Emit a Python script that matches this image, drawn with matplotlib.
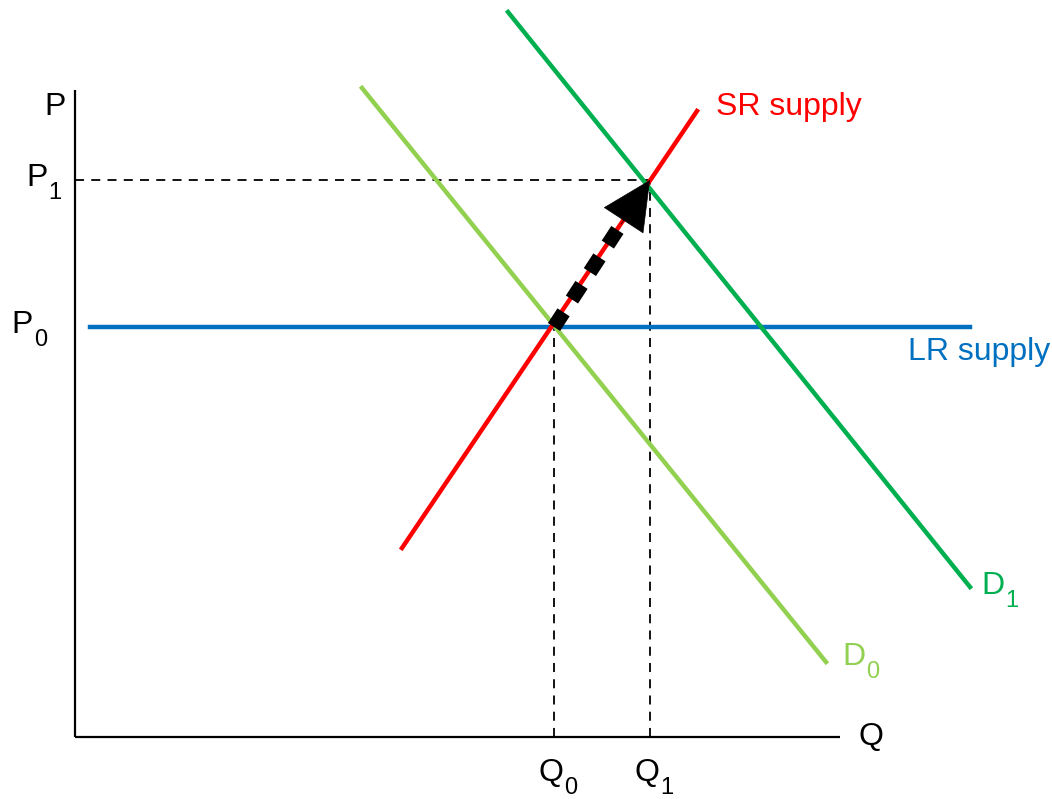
import numpy as np
import matplotlib.pyplot as plt

plt.rcParams['font.family'] = ['Liberation Sans', 'DejaVu Sans']

# curve end points (quantity, price)
sr_q = [327, 622]
sr_p = [189, 626]
d0_q = [287, 751]
d0_p = [649, 75]
d1_q = [433, 895]
d1_p = [725, 150]
lr_q = [15, 895]
lr_p = [410, 410]

q0, q1 = 479, 575
p0, p1 = 410, 557

red = '#ff0000'
light_green = '#92d050'
green = '#00b050'
blue = '#0070c0'

fig = plt.figure(figsize=(10.52, 7.99), dpi=100)
ax = fig.add_axes([0, 0, 1, 1])
ax.set_xlim(-75, 977)
ax.set_ylim(-62, 737)
ax.axis('off')

# axes
ax.plot([0, 0], [0, 647], color='black', lw=1.6, solid_capstyle='butt')
ax.plot([0, 765], [0, 0], color='black', lw=1.6, solid_capstyle='butt')

# dashed guides
dash = dict(color='black', lw=1.3, dashes=(5, 4))
ax.plot([0, q1], [p1, p1], **dash)
ax.plot([q1, q1], [0, p1], **dash)
ax.plot([q0, q0], [0, p0], **dash)

# curves
ax.plot(lr_q, lr_p, color=blue, lw=3.2)
ax.plot(d0_q, d0_p, color=light_green, lw=3.2)
ax.plot(d1_q, d1_p, color=green, lw=3.2)
ax.plot(sr_q, sr_p, color=red, lw=3.2)

# movement arrow along SR supply
frac = 0.73
qm = q0 + frac * (q1 - q0)
pm = p0 + frac * (p1 - p0)
ax.plot([q0, qm], [p0, pm], color='black', lw=10.5, dashes=(1.2, 1.05),
        solid_capstyle='butt', dash_capstyle='butt')
ax.annotate('', xy=(q1, p1), xytext=(qm - 3, pm - 4.5),
            arrowprops=dict(arrowstyle='-|>,head_length=1.7,head_width=0.83',
                            color='black', lw=0.5, shrinkA=0, shrinkB=0,
                            mutation_scale=20))

fs = 23
sub_fs = 17


def label(x, y, main, sub=None, color='black', ha='center'):
    t = ax.text(x, y, main, fontsize=fs, color=color, ha=ha, va='center')
    if sub:
        ax.annotate(sub, xy=(1, 0), xycoords=t, xytext=(1, -6),
                    textcoords='offset pixels', fontsize=sub_fs, color=color,
                    ha='left', va='baseline')


label(-20, 630, 'P')
label(-38, 559, 'P', '1')
label(-53, 412, 'P', '0')
label(796, 0, 'Q')
label(476, -36, 'Q', '0')
label(572, -36, 'Q', '1')
label(641, 630, 'SR supply', color=red, ha='left')
label(975, 385, 'LR supply', color=blue, ha='right')
label(918, 151, 'D', '1', color=green)
label(779, 80, 'D', '0', color=light_green)

fig.savefig('out.png', dpi=100)
